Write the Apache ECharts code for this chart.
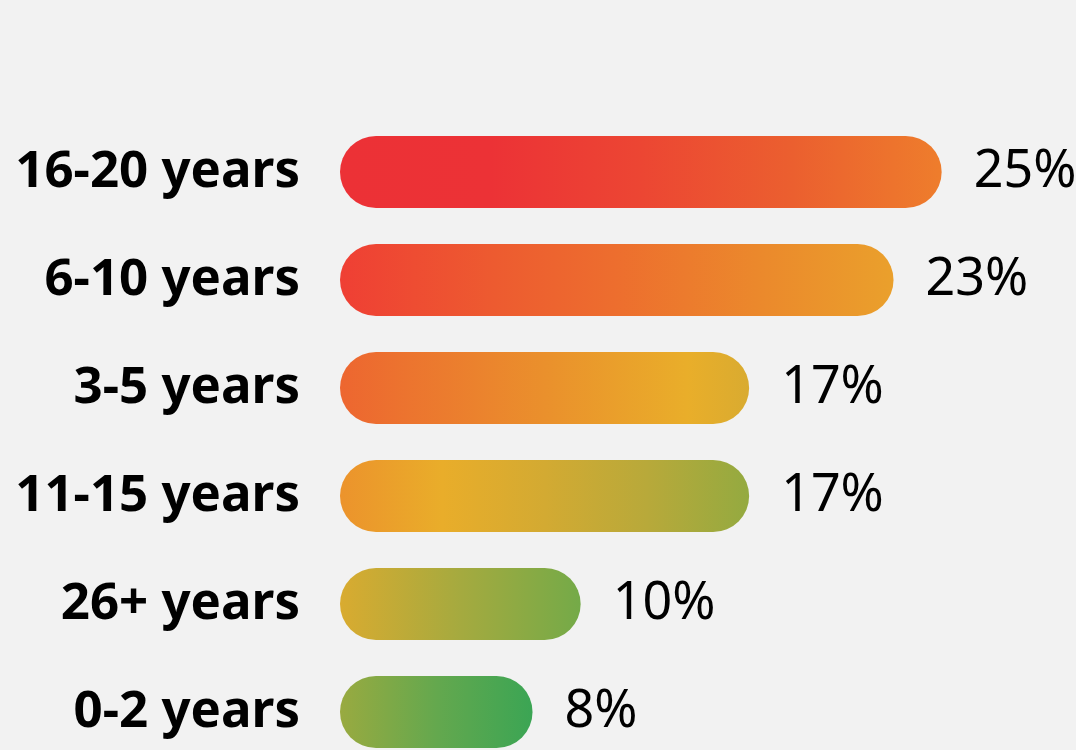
<!DOCTYPE html>
<html>
<head>
<meta charset="utf-8">
<script src="https://cdn.jsdelivr.net/npm/echarts@6/dist/echarts.min.js"></script>
<style>
html, body { margin: 0; padding: 0; background: #f2f2f2; }
#chart { width: 1076px; height: 750px; }
</style>
</head>
<body>
<div id="chart"></div>
<script>
var categories = ['16-20 years', '6-10 years', '3-5 years', '11-15 years', '26+ years', '0-2 years'];
var shares = [25, 23, 17, 17, 10, 8];

// colour stops for each bar, left to right
var barStops = [
	[[0, '#ec3136'], [0.25, '#ec3236'], [0.5, '#ec4633'], [0.75, '#eb5f2f'], [1, '#ee7d2c']],
	[[0, '#ef3f34'], [0.27, '#ed5a30'], [0.5, '#ed6e2e'], [0.75, '#eb882c'], [1, '#eaa02c']],
	[[0, '#ed6630'], [0.5, '#ea902c'], [0.85, '#e9ae2a'], [1, '#d9ab30']],
	[[0, '#ec932c'], [0.25, '#e9ad2a'], [0.5, '#d3aa32'], [0.75, '#b8a93a'], [1, '#94aa40']],
	[[0, '#d9ab30'], [0.5, '#a5aa3f'], [1, '#74aa48']],
	[[0, '#99aa40'], [0.5, '#64a84e'], [1, '#3ba554']]
];

var chart = echarts.init(document.getElementById('chart'));

var barData = shares.map(function (v, i) {
	return {
		value : v,
		itemStyle : {
			color : new echarts.graphic.LinearGradient(0, 0, 1, 0, barStops[i].map(function (s) {
				return { offset : s[0], color : s[1] };
			}))
		}
	};
});

option = {
	backgroundColor : '#f2f2f2',
	grid : {
		left : 340,
		top : 118,
		width : 722,
		height : 648,
		outerBoundsMode : 'none',
		containLabel : false
	},
	xAxis : {
		type : 'value',
		min : 0,
		max : 30,
		show : false
	},
	yAxis : {
		type : 'category',
		inverse : true,
		data : categories,
		axisLine : { show : false },
		axisTick : { show : false },
		axisLabel : {
			margin : 40,
			color : '#000',
			fontFamily : 'Noto Sans',
			fontWeight : 'bold',
			fontSize : 51
		}
	},
	series : [ {
		type : 'bar',
		data : barData,
		barWidth : 72,
		itemStyle : {
			borderRadius : 36
		},
		label : {
			show : true,
			position : 'right',
			distance : 32,
			formatter : '{c}%',
			color : '#000',
			fontFamily : 'Noto Sans',
			fontSize : 52
		},
		animation : false
	} ]
};

chart.setOption(option);
</script>
</body>
</html>
